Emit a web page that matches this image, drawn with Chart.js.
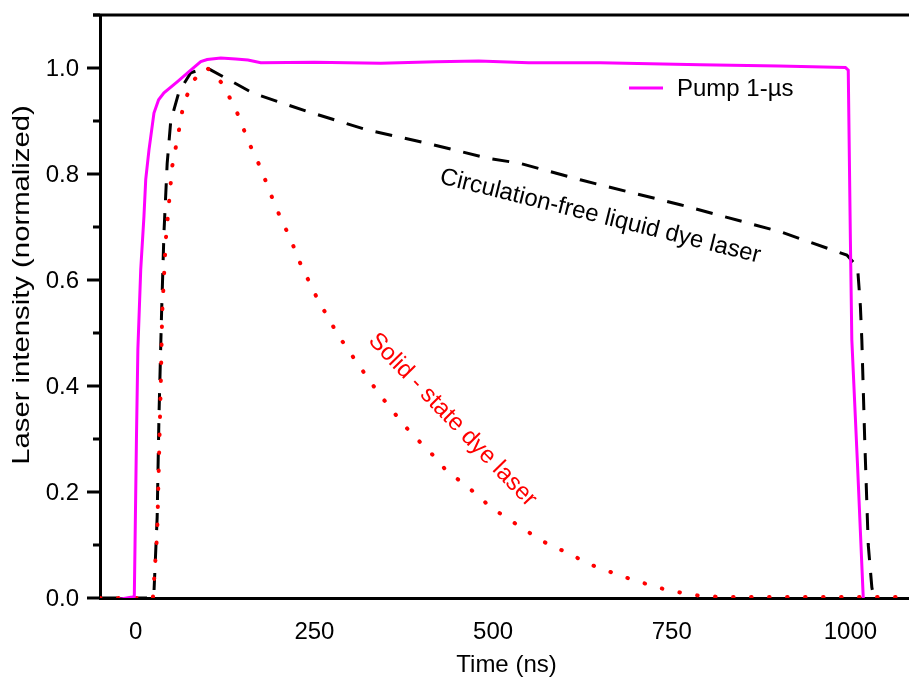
<!DOCTYPE html>
<html lang="en">
<head>
  <meta charset="UTF-8" />
  <title>Laser pulse shapes</title>
  <script src="https://cdn.jsdelivr.net/npm/chart.js"></script>
  <style>
    html, body { margin: 0; padding: 0; background: #fff; }
    #wrap { width: 909px; height: 679px; }
  </style>
</head>
<body>
  <div id="wrap"><canvas id="pulseChart"></canvas></div>

  <script>
    // values (time in ns, intensity normalized)
    const pumpTime  = [-33, -5, -2, -1, 1, 3, 7, 11.5, 14, 18.5, 25.5, 32, 39.5, 58, 77, 91, 100, 119, 140, 157, 175, 250, 343, 420, 480, 550, 650, 790, 900, 993, 997, 1000, 1002, 1010, 1018];
    const pumpValue = [-0.005, 0.002, 0.003, 0.1, 0.3, 0.47, 0.62, 0.72, 0.79, 0.845, 0.915, 0.94, 0.953, 0.974, 0.996, 1.012, 1.016, 1.019, 1.017, 1.015, 1.01, 1.011, 1.009, 1.012, 1.013, 1.01, 1.01, 1.006, 1.004, 1.001, 0.996, 0.675, 0.487, 0.25, 0.0];

    const liquidTime  = [-50, 22, 25.5, 30, 32.5, 36, 39.5, 44, 49, 60.5, 77, 91, 100, 165, 240, 324, 408, 492, 538, 622, 762, 902, 995, 1010, 1014, 1016, 1020, 1025, 1030, 1033];
    const liquidValue = [0, 0, 0.01, 0.153, 0.342, 0.53, 0.689, 0.82, 0.9, 0.955, 0.991, 0.997, 1.0, 0.952, 0.918, 0.883, 0.858, 0.83, 0.82, 0.789, 0.742, 0.691, 0.647, 0.625, 0.55, 0.487, 0.3, 0.1, 0.02, 0];

    const solidTime  = [-50, 24, 30, 32.5, 35, 37, 42, 51, 60.5, 65, 72, 81.5, 91, 100, 121, 133, 144.5, 154, 163, 175, 184, 193, 203, 214, 224, 233, 245, 256, 270, 282, 296, 310, 326, 341, 357, 371, 387, 403, 420, 436, 459, 478, 496, 517, 534, 552, 571, 590, 611, 632, 655, 676, 697, 718, 744, 767, 790, 820, 1082];
    const solidValue = [0, 0, 0.122, 0.26, 0.40, 0.537, 0.675, 0.814, 0.883, 0.918, 0.949, 0.977, 0.994, 1.0, 0.971, 0.94, 0.908, 0.874, 0.845, 0.811, 0.779, 0.748, 0.716, 0.685, 0.653, 0.622, 0.591, 0.559, 0.528, 0.498, 0.471, 0.443, 0.413, 0.384, 0.358, 0.333, 0.309, 0.287, 0.264, 0.238, 0.216, 0.194, 0.172, 0.153, 0.138, 0.122, 0.106, 0.094, 0.081, 0.065, 0.054, 0.043, 0.034, 0.025, 0.015, 0.009, 0.004, 0.002, 0.002];

    const xTickLabels = [0, 250, 500, 750, 1000];
    const yTickLabels = [0, 0.2, 0.4, 0.6, 0.8, 1.0];

    const FONT = "'Liberation Sans', Arial, sans-serif";

    function toPoints(xs, ys) {
      return xs.map((x, i) => ({ x: x, y: ys[i] }));
    }

    function isStep(v, step) {
      const k = v / step;
      return Math.abs(k - Math.round(k)) < 1e-6;
    }

    // frame, tick marks + labels, axis titles, legend and curve labels
    const decorations = {
      id: 'decorations',
      afterDraw(chart) {
        const { ctx, chartArea: a, scales: { x, y } } = chart;
        ctx.save();
        ctx.strokeStyle = '#000';
        ctx.fillStyle = '#000';
        ctx.lineWidth = 3;
        ctx.font = '24px ' + FONT;

        ctx.beginPath();
        ctx.moveTo(a.left - 7, a.top);
        ctx.lineTo(a.right, a.top);
        ctx.stroke();

        x.ticks.forEach(t => {
          const px = x.getPixelForValue(t.value);
          const major = xTickLabels.includes(t.value);
          ctx.beginPath();
          ctx.moveTo(px, a.bottom);
          ctx.lineTo(px, a.bottom + (major ? 13 : 7));
          ctx.stroke();
        });
        y.ticks.forEach(t => {
          const py = y.getPixelForValue(t.value);
          const major = yTickLabels.some(l => Math.abs(l - t.value) < 1e-6);
          ctx.beginPath();
          ctx.moveTo(a.left, py);
          ctx.lineTo(a.left - (major ? 13 : 7), py);
          ctx.stroke();
        });

        ctx.textBaseline = 'middle';
        ctx.textAlign = 'center';
        xTickLabels.forEach(v => {
          ctx.fillText(String(v), x.getPixelForValue(v), a.bottom + 34);
        });
        ctx.textAlign = 'right';
        yTickLabels.forEach(v => {
          ctx.fillText(v.toFixed(1), a.left - 21, y.getPixelForValue(v) + 1);
        });

        // axis titles
        ctx.textAlign = 'center';
        ctx.fillText('Time (ns)', (a.left + a.right) / 2 + 2, a.bottom + 67);
        ctx.save();
        ctx.translate(22, 285);
        ctx.rotate(-Math.PI / 2);
        ctx.scale(1.22, 1);
        ctx.fillText('Laser intensity (normalized)', 0, 0);
        ctx.restore();

        // legend
        const lx = a.right - 280, ly = a.top + 73;
        ctx.strokeStyle = '#ff00ff';
        ctx.beginPath();
        ctx.moveTo(lx, ly);
        ctx.lineTo(lx + 34, ly);
        ctx.stroke();
        ctx.textAlign = 'left';
        ctx.fillText('Pump 1-\u00b5s', lx + 48, ly + 1);

        // curve labels
        ctx.textAlign = 'center';
        ctx.save();
        ctx.translate(x.getPixelForValue(650), y.getPixelForValue(0.72));
        ctx.rotate(14 * Math.PI / 180);
        ctx.fillText('Circulation-free liquid dye laser', 0, 0);
        ctx.restore();

        ctx.save();
        ctx.translate(x.getPixelForValue(443), y.getPixelForValue(0.336));
        ctx.rotate(46 * Math.PI / 180);
        ctx.fillStyle = '#ff0000';
        ctx.fillText('Solid - state dye laser', 0, 0);
        ctx.restore();

        ctx.restore();
      }
    };

    new Chart(document.getElementById('pulseChart'), {
      type: 'line',
      data: {
        datasets: [
          {
            label: 'Pump 1-\u00b5s',
            data: toPoints(pumpTime, pumpValue),
            borderColor: '#ff00ff',
            borderWidth: 3,
            pointRadius: 0,
            tension: 0
          },
          {
            label: 'Solid - state dye laser',
            data: toPoints(solidTime, solidValue),
            borderColor: '#ff0000',
            borderWidth: 4,
            borderDash: [0.5, 17.5],
            borderCapStyle: 'round',
            pointRadius: 0,
            tension: 0
          },
          {
            label: 'Circulation-free liquid dye laser',
            data: toPoints(liquidTime, liquidValue),
            borderColor: '#000',
            borderWidth: 3,
            borderDash: [17, 13],
            pointRadius: 0,
            tension: 0
          }
        ]
      },
      options: {
        responsive: true,
        maintainAspectRatio: false,
        animation: false,
        layout: { padding: { top: 15, left: 0, right: 0, bottom: 0 } },
        plugins: {
          legend: { display: false },
          tooltip: { enabled: false }
        },
        scales: {
          x: {
            type: 'linear',
            min: -50,
            max: 1082,
            afterBuildTicks: s => { s.ticks = s.ticks.filter(t => isStep(t.value, 125)); },
            afterFit: s => { s.height = 81; s.paddingLeft = 0; s.paddingRight = 0; },
            grid: { display: false, drawTicks: false },
            border: { display: true, color: '#000', width: 3 },
            ticks: { stepSize: 125, autoSkip: false, display: false }
          },
          y: {
            type: 'linear',
            min: 0,
            max: 1.1,
            afterBuildTicks: s => { s.ticks = s.ticks.filter(t => isStep(t.value, 0.1)); },
            afterFit: s => { s.width = 100; s.paddingTop = 0; s.paddingBottom = 0; },
            grid: { display: false, drawTicks: false },
            border: { display: true, color: '#000', width: 3 },
            ticks: { stepSize: 0.1, autoSkip: false, display: false }
          }
        }
      },
      plugins: [decorations]
    });
  </script>
</body>
</html>
